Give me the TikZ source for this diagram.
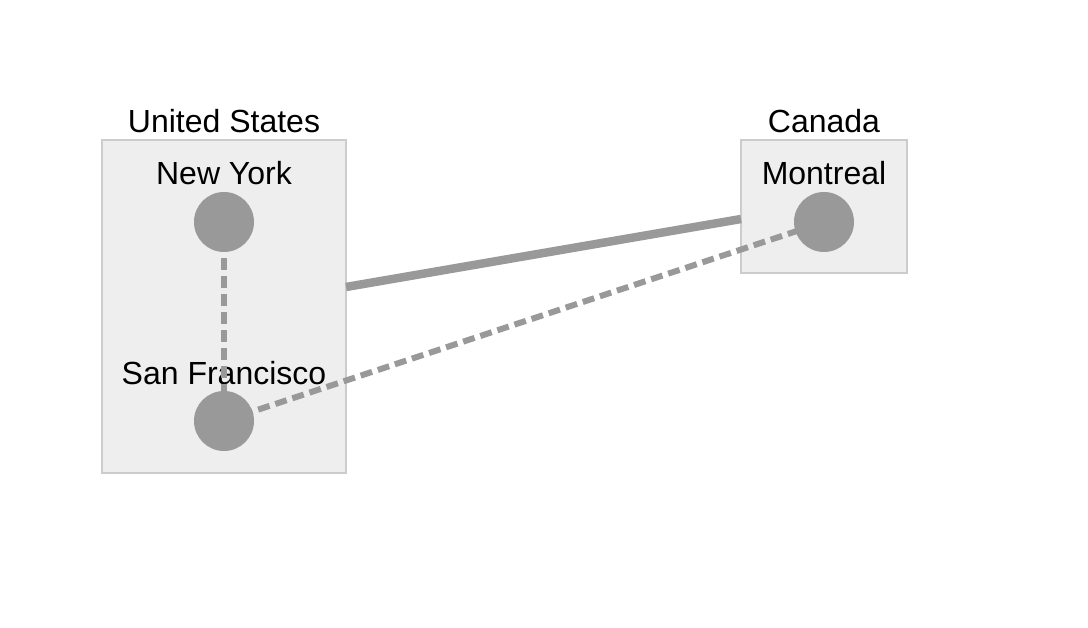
\documentclass[tikz,border=0pt]{standalone}
\usepackage{fontspec}
\setmainfont{Liberation Sans}
\definecolor{boxfill}{HTML}{EEEEEE}
\definecolor{boxline}{HTML}{CCCCCC}
\definecolor{linkc}{HTML}{999999}
\begin{document}
\begin{tikzpicture}[x=1pt,y=-1pt,
  group/.style={draw=boxline,fill=boxfill,line width=1.5pt},
  city/.style={circle,fill=linkc,minimum size=60pt,inner sep=0pt},
  lbl/.style={anchor=base,font=\fontsize{32}{38}\selectfont,inner sep=0pt},
  solidlink/.style={draw=linkc,line width=8.5pt},
  dashlink/.style={draw=linkc,line width=6pt,dash pattern=on 12pt off 6pt}]
\useasboundingbox (0,0) rectangle (1088,628);
\draw[group] (102,140) rectangle (346,473);
\draw[group] (741,140) rectangle (907,273);
\node[lbl] (uslbl) at (224,133) {United States};
\node[lbl] (calbl) at (824,133) {Canada};
\node[lbl] (nylbl) at (224,185) {New York};
\node[lbl] (sflbl) at (224,385) {San Francisco};
\node[lbl] (mtlbl) at (824,185) {Montreal};
\coordinate (usedge) at (346,287);
\coordinate (caedge) at (741,219);
\coordinate (nyc) at (224,222);
\coordinate (sfc) at (224,421);
\coordinate (mtc) at (824,222);
\coordinate (nyfoot) at (224,258);
\draw[solidlink] (usedge) -- (caedge);
\draw[dashlink] (nyfoot) -- (sfc);
\draw[dashlink] (sfc) -- (mtc);
\node[city] (ny) at (nyc) {};
\node[city] (sf) at (sfc) {};
\node[city] (mt) at (mtc) {};
\end{tikzpicture}
\end{document}
